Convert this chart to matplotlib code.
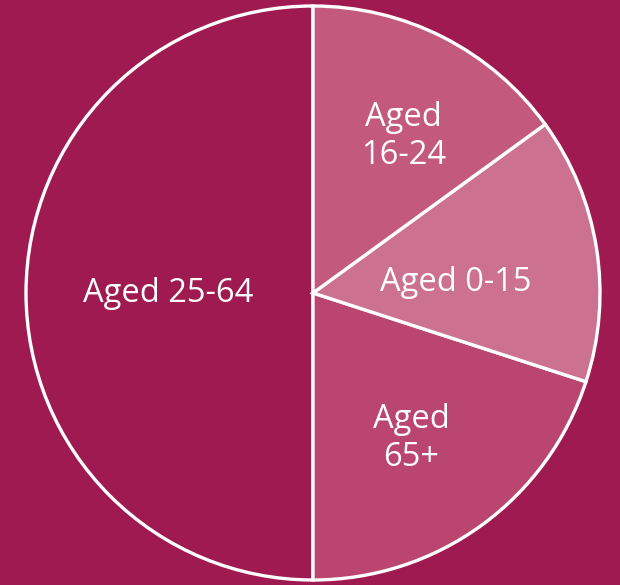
import numpy as np
import matplotlib.pyplot as plt

# Share of population by age band
labels = ["Aged 25-64", "Aged\n65+", "Aged 0-15", "Aged\n16-24"]
shares = [50, 20, 15, 15]
colors = ["#9E1A50", "#BA4670", "#CD7190", "#C3597C"]
label_dist = [0.505, 0.61, 0.50, 0.63]
label_shift = [0, -2, -5, -3]  # degrees nudged from wedge midpoint

bg = "#A01A52"

fig = plt.figure(figsize=(6.2, 5.85), dpi=100)
fig.patch.set_facecolor(bg)
ax = fig.add_axes([0, 0, 1, 1])
ax.set_facecolor(bg)

cx, cy, r = 313, 292, 287
wedges, _ = ax.pie(shares, colors=colors, startangle=90, counterclock=True,
                   center=(cx, cy), radius=r, frame=True,
                   wedgeprops=dict(edgecolor="white", linewidth=2.4))
ax.set_xlim(0, 620)
ax.set_ylim(0, 585)
ax.set_aspect("equal")
ax.axis("off")

for w, lab, d, s in zip(wedges, labels, label_dist, label_shift):
    ang = np.deg2rad((w.theta1 + w.theta2) / 2 + s)
    ax.text(cx + d * r * np.cos(ang), cy + d * r * np.sin(ang), lab,
            ha="center", va="center", color="white", fontsize=23.5,
            family="Open Sans", linespacing=1.2)

fig.savefig("out.png", dpi=100, facecolor=bg)
